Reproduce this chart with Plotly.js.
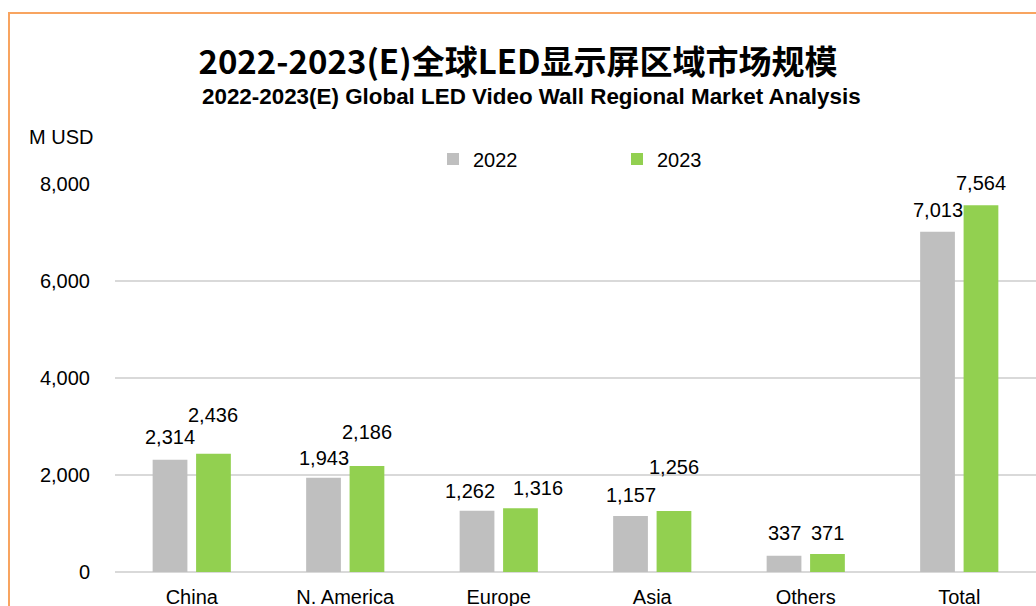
<!DOCTYPE html>
<html>
<head>
<meta charset="utf-8">
<script src="https://cdn.plot.ly/plotly-3.0.1.min.js"></script>
<style>
  html, body { margin: 0; padding: 0; background: #fff; }
  #chart { width: 1036px; height: 606px; }
  #frame { position: absolute; left: 8px; top: 12px; width: 1100px; height: 700px;
           border-left: 2px solid #F8A460; border-top: 2px solid #F8A460; pointer-events: none; }
</style>
</head>
<body>
<div id="chart"></div>
<div id="frame"></div>
<script>
// ---- data ----
const categories = ['China', 'N. America', 'Europe', 'Asia', 'Others', 'Total'];
const values2022 = [2314, 1943, 1262, 1157, 337, 7013];
const values2023 = [2436, 2186, 1316, 1256, 371, 7564];
const seriesNames = ['2022', '2023'];
const yTickValues = [0, 2000, 4000, 6000, 8000];

// ---- styling ----
const FONT = '"Liberation Sans", Arial, Helvetica, sans-serif';
const grey = '#BFBFBF';
const green = '#92D050';
// hand-placed label nudges (px), as in the original
const lift2022 = [23, 20, 20, 21, 23, 22];
const lift2023 = [39, 34, 20, 44, 21, 22];
const nudge2022 = [0, 0, -7, 0, 0, 0];
const nudge2023 = [0, 0, 18, 0, 0, 0];
const barHalfPitch = 0.1416; // in category units

const traces = [
  { type: 'bar', name: seriesNames[0], x: categories, y: values2022, marker: { color: grey }, hoverinfo: 'x+y' },
  { type: 'bar', name: seriesNames[1], x: categories, y: values2023, marker: { color: green }, hoverinfo: 'x+y' }
];

const fmt = v => v.toLocaleString('en-US');
const annotations = [];
categories.forEach((c, i) => {
  annotations.push({ xref: 'x', yref: 'y', x: i - barHalfPitch, y: values2022[i], text: fmt(values2022[i]),
    showarrow: false, yanchor: 'middle', yshift: lift2022[i], xshift: nudge2022[i],
    font: { family: FONT, size: 20, color: '#000' } });
  annotations.push({ xref: 'x', yref: 'y', x: i + barHalfPitch, y: values2023[i], text: fmt(values2023[i]),
    showarrow: false, yanchor: 'middle', yshift: lift2023[i], xshift: nudge2023[i],
    font: { family: FONT, size: 20, color: '#000' } });
});
annotations.push({ xref: 'paper', yref: 'paper', x: (531.5 - 115) / 921, y: (572 - 97) / 388,
  text: '<b>2022-2023(E) Global LED Video Wall Regional Market Analysis</b>', showarrow: false,
  xanchor: 'center', yanchor: 'middle', font: { family: FONT, size: 22.4, color: '#000' } });
annotations.push({ xref: 'paper', yref: 'paper', x: (27 - 115) / 921, y: (572 - 137) / 388,
  text: 'M USD', showarrow: false, xanchor: 'left', yanchor: 'middle',
  font: { family: FONT, size: 20, color: '#000' } });

const layout = {
  width: 1036, height: 606,
  margin: { l: 115, r: 0, t: 184, b: 34, pad: 0 },
  paper_bgcolor: '#fff', plot_bgcolor: '#fff',
  font: { family: FONT, size: 20, color: '#000' },
  title: { text: '<b>2022-2023(E)全球LED显示屏区域市场规模</b>', xref: 'paper', x: (518 - 115) / 921, xanchor: 'center',
    yref: 'container', y: 1 - 62 / 606, yanchor: 'middle',
    font: { family: '"Noto Sans CJK SC", "Noto Sans", sans-serif', size: 33, color: '#000' } },
  barmode: 'group', bargap: 0.434, bargroupgap: 0.2,
  xaxis: { type: 'category', showgrid: false, showline: false, zeroline: false, ticks: '',
    ticklabelstandoff: 11, tickfont: { family: FONT, size: 20, color: '#000' } },
  yaxis: { range: [0, 8000], tickvals: yTickValues, tickformat: ',', showgrid: true, gridcolor: '#D9D9D9', gridwidth: 1.3,
    zeroline: true, zerolinecolor: '#D9D9D9', zerolinewidth: 1.5, showline: false, ticks: '',
    ticklabelstandoff: 24, tickfont: { family: FONT, size: 20, color: '#000' } },
  showlegend: true,
  legend: { orientation: 'h', xref: 'paper', yref: 'paper', x: (433 - 115) / 921, y: (572 - 159) / 388,
    xanchor: 'left', yanchor: 'middle', entrywidth: 139, itemwidth: 30, traceorder: 'normal',
    font: { family: FONT, size: 20, color: '#000' }, bgcolor: 'rgba(0,0,0,0)' },
  annotations: annotations
};

Plotly.newPlot('chart', traces, layout, { displayModeBar: false, staticPlot: true });
</script>
</body>
</html>
